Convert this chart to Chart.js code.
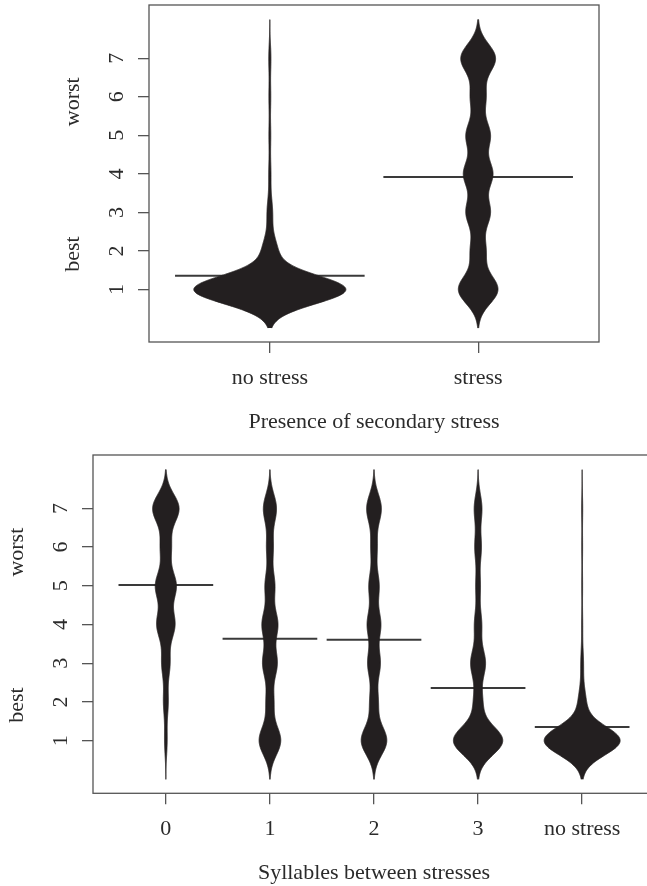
<!DOCTYPE html>
<html>
<head>
<meta charset="utf-8">
<script src="https://cdn.jsdelivr.net/npm/chart.js@4.4.0/dist/chart.umd.min.js"></script>
<style>
  html, body { margin: 0; padding: 0; background: #fff; overflow: hidden; }
  #page { position: relative; width: 647px; height: 886px; overflow: hidden; }
  #top-chart { position: absolute; left: 0; top: 0; }
  #bottom-chart { position: absolute; left: 0; top: 443px; }
</style>
</head>
<body>
<div id="page">
  <canvas id="top-chart" width="647" height="443" style="width:647px;height:443px"></canvas>
  <canvas id="bottom-chart" width="660" height="443" style="width:660px;height:443px"></canvas>
</div>
<script>
// ratings, 1 = best ... 7 = worst
const ratings = [1, 2, 3, 4, 5, 6, 7];

// share of answers at each rating
const noStressShare = [0.85, 0.08, 0.03, 0.012, 0.01, 0.01, 0.012];
const stressShare = [0.22, 0.083, 0.133, 0.16, 0.133, 0.083, 0.193];
const syl0Share = [0.029, 0.053, 0.091, 0.20, 0.23, 0.117, 0.294];
const syl1Share = [0.241, 0.084, 0.161, 0.175, 0.108, 0.073, 0.146];
const syl2Share = [0.285, 0.091, 0.139, 0.150, 0.113, 0.069, 0.164];
const syl3Share = [0.551, 0.095, 0.164, 0.08, 0.051, 0.073, 0.086];

const topCategories = ['no stress', 'stress'];
const topMeans = [1.36, 3.92];
const bottomCategories = ['0', '1', '2', '3', 'no stress'];
const bottomMeans = [5.02, 3.63, 3.61, 2.36, 1.35];

const sideLabels = ['best', 'worst'];
const sideLabelAt = [1.92, 5.87];

const beanColor = '#231f20';
const meanColor = '#3a3a3a';
const textColor = '#2b2b2b';
const frameColor = '#555';
const bandwidth = 0.37;
const beanHalfWidth = 0.365;
const meanHalfWidth = 0.455;

Chart.defaults.font.family = "'Liberation Serif', serif";
Chart.defaults.font.size = 22;
Chart.defaults.color = textColor;

function density(share, y) {
    return share.reduce((s, p, j) => s + p * Math.exp(-((y - ratings[j]) ** 2) / (2 * bandwidth * bandwidth)), 0);
}

function beanDatasets(shares) {
    const ys = [];
    for (let k = 0; k <= 400; k++) ys.push(k * 0.02);
    const dens = shares.map(s => ys.map(y => density(s, y)));
    const dMax = Math.max(...dens.map(d => Math.max(...d)));
    return dens.map((d, i) => {
        const c = i + 1;
        const right = ys.map((y, k) => ({x: c + d[k] / dMax * beanHalfWidth, y: y}));
        const left = ys.map((y, k) => ({x: c - d[k] / dMax * beanHalfWidth, y: y})).reverse();
        return {
            data: right.concat(left),
            borderColor: beanColor,
            backgroundColor: beanColor,
            borderWidth: 0.8,
            fill: 'shape',
            pointRadius: 0,
            tension: 0.05  // non-zero so the outline is not collapsed per pixel column
        };
    });
}

function meanDatasets(means) {
    return means.map((m, i) => ({
        data: [{x: i + 1 - meanHalfWidth, y: m}, {x: i + 1 + meanHalfWidth, y: m}],
        borderColor: meanColor,
        borderWidth: 2,
        pointRadius: 0,
        fill: false
    }));
}

const framePlugin = {
    id: 'frame',
    afterDraw(chart) {
        const {ctx, chartArea: a, scales} = chart;
        ctx.save();
        ctx.strokeStyle = frameColor;
        ctx.lineWidth = 1.3;
        ctx.strokeRect(a.left, a.top, a.right - a.left, a.bottom - a.top);
        ctx.fillStyle = textColor;
        ctx.font = "22px 'Liberation Serif'";
        ctx.textAlign = 'center';
        ctx.textBaseline = 'alphabetic';
        sideLabels.forEach((t, i) => {
            const y = scales.y.getPixelForValue(sideLabelAt[i]);
            ctx.save();
            ctx.translate(a.left - 70.5, y);
            ctx.rotate(-Math.PI / 2);
            ctx.fillText(t, 0, 0);
            ctx.restore();
        });
        ctx.restore();
    }
};

function makeChart(id, categories, shares, means, opts) {
    const ctx = document.getElementById(id).getContext('2d');
    return new Chart(ctx, {
        type: 'line',
        data: {datasets: beanDatasets(shares).concat(meanDatasets(means))},
        options: {
            responsive: false,
            animation: false,
            layout: {padding: {left: 0, right: opts.padRight, top: opts.padTop, bottom: 0}},
            plugins: {
                legend: {display: false},
                tooltip: {enabled: false},
                filler: {drawTime: 'beforeDatasetDraw'}
            },
            scales: {
                x: {
                    type: 'linear',
                    min: opts.xMin,
                    max: opts.xMax,
                    afterBuildTicks: s => { s.ticks = categories.map((c, i) => ({value: i + 1})); },
                    afterFit: s => { s.height = opts.xHeight; s.paddingLeft = 0; s.paddingRight = 0; },
                    ticks: {
                        callback: v => categories[v - 1],
                        autoSkip: false,
                        maxRotation: 0,
                        padding: 12
                    },
                    grid: {drawOnChartArea: false, drawTicks: true, tickLength: 11, color: frameColor, lineWidth: 1.3},
                    border: {display: false},
                    title: {display: true, text: opts.title, padding: {top: 0, bottom: opts.titlePad}}
                },
                y: {
                    type: 'linear',
                    min: -0.36,
                    max: 8.38,
                    afterBuildTicks: s => { s.ticks = ratings.map(v => ({value: v})); },
                    afterFit: s => { s.width = opts.yWidth; s.paddingTop = 0; s.paddingBottom = 0; },
                    ticks: {
                        minRotation: 90,
                        maxRotation: 90,
                        crossAlign: 'center',
                        padding: 15.5
                    },
                    grid: {drawOnChartArea: false, drawTicks: true, tickLength: 11, color: frameColor, lineWidth: 1.3},
                    border: {display: false}
                }
            }
        },
        plugins: [framePlugin]
    });
}

window.addEventListener('load', () => {
    makeChart('top-chart', topCategories, [noStressShare, stressShare], topMeans, {
        xMin: 0.42, xMax: 2.58, padRight: 48, padTop: 5, xHeight: 101, yWidth: 149,
        title: 'Presence of secondary stress', titlePad: 8
    });
    makeChart('bottom-chart', bottomCategories,
        [syl0Share, syl1Share, syl2Share, syl3Share, noStressShare], bottomMeans, {
        xMin: 0.3, xMax: 5.7, padRight: 5, padTop: 12, xHeight: 92.7, yWidth: 93,
        title: 'Syllables between stresses', titlePad: 0
    });
});
</script>
</body>
</html>
